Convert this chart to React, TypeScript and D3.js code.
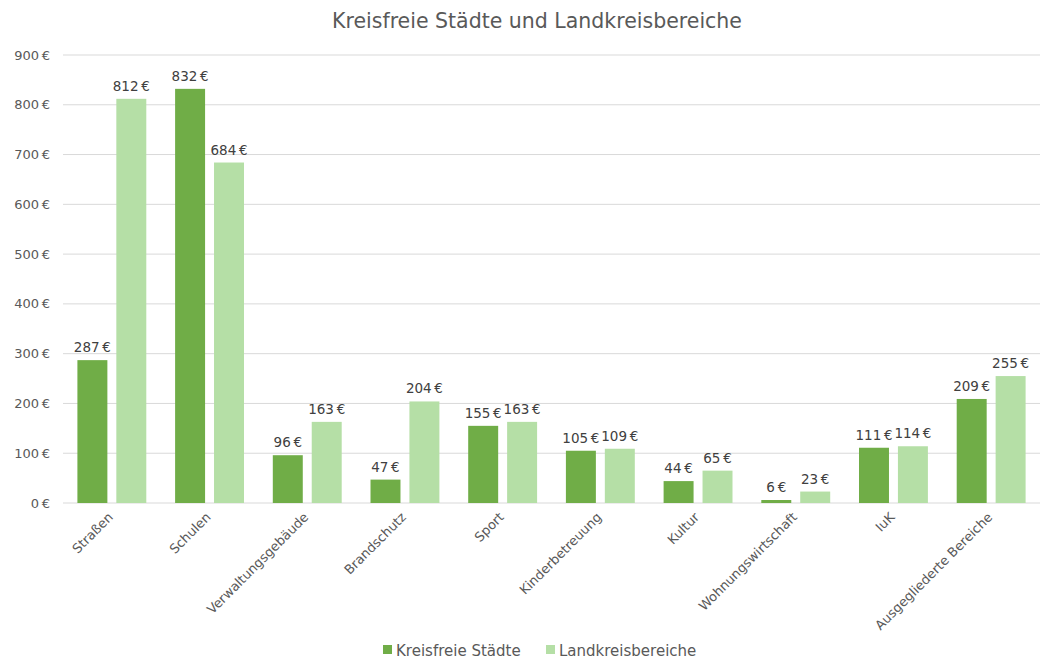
import * as d3 from 'd3';
import { useEffect, useRef } from 'react';

const categories = [
  'Straßen', 'Schulen', 'Verwaltungsgebäude', 'Brandschutz', 'Sport',
  'Kinderbetreuung', 'Kultur', 'Wohnungswirtschaft', 'IuK', 'Ausgegliederte Bereiche'
];
const kreisfreie = [287, 832, 96, 47, 155, 105, 44, 6, 111, 209];
const landkreis = [812, 684, 163, 204, 163, 109, 65, 23, 114, 255];
const seriesNames = ['Kreisfreie Städte', 'Landkreisbereiche'];
const seriesColors = ['#70ad47', '#b5dfa6'];
const yTicks = [0, 100, 200, 300, 400, 500, 600, 700, 800, 900];

const W = 1051;
const H = 662;

const euro = (v: number) => `${v}\u202F€`;

function App() {
  const ref = useRef<SVGSVGElement>(null);

  useEffect(() => {
    const svg = d3.select(ref.current);
    svg.selectAll('*').remove();
    const font = '"DejaVu Sans", Verdana, sans-serif';

    const x = d3.scaleBand().domain(categories).range([63, 1040]);
    const y = d3.scaleLinear().domain([0, 900]).range([503, 55]);
    const inner = d3.scaleBand().domain(['0', '1']).range([0, x.bandwidth()]).paddingInner(0.23).paddingOuter(0.37);

    svg.append('text')
      .attr('x', 537).attr('y', 28)
      .attr('text-anchor', 'middle')
      .style('font-family', font).style('font-size', '20.5px').style('fill', '#595959')
      .text('Kreisfreie Städte und Landkreisbereiche');

    // grid
    svg.append('g').selectAll('line').data(yTicks).enter().append('line')
      .attr('x1', 63).attr('x2', 1040)
      .attr('y1', d => y(d)).attr('y2', d => y(d))
      .attr('stroke', '#d9d9d9').attr('stroke-width', 1);

    svg.append('g').selectAll('text').data(yTicks).enter().append('text')
      .attr('x', 50).attr('y', d => y(d) + 4.5)
      .attr('text-anchor', 'end')
      .style('font-family', font).style('font-size', '13px').style('fill', '#595959')
      .text(d => euro(d));

    const series = [kreisfreie, landkreis];
    series.forEach((vals, si) => {
      const g = svg.append('g');
      g.selectAll('rect').data(vals).enter().append('rect')
        .attr('x', (d, i) => (x(categories[i]) as number) + (inner(String(si)) as number))
        .attr('width', inner.bandwidth())
        .attr('y', d => y(d))
        .attr('height', d => y(0) - y(d))
        .attr('fill', seriesColors[si]);
      g.selectAll('text').data(vals).enter().append('text')
        .attr('x', (d, i) => (x(categories[i]) as number) + (inner(String(si)) as number) + inner.bandwidth() / 2)
        .attr('y', d => y(d) - 8)
        .attr('text-anchor', 'middle')
        .style('font-family', font).style('font-size', '13.5px').style('fill', '#404040')
        .text(d => euro(d));
    });

    // x labels
    svg.append('g').selectAll('text').data(categories).enter().append('text')
      .attr('transform', d => `translate(${(x(d) as number) + x.bandwidth() / 2 + 2},${518}) rotate(-45)`)
      .attr('text-anchor', 'end')
      .style('font-family', font).style('font-size', '13px').style('fill', '#595959')
      .text(d => d);

    // legend
    const lx = [383, 546];
    seriesNames.forEach((n, i) => {
      svg.append('rect').attr('x', lx[i]).attr('y', 645).attr('width', 9).attr('height', 9).attr('fill', seriesColors[i]);
      svg.append('text').attr('x', lx[i] + 13).attr('y', 656)
        .style('font-family', font).style('font-size', '15px').style('fill', '#595959')
        .text(n);
    });
  }, []);

  return (
    <svg ref={ref} width={W} height={H} style={{ display: 'block', position: 'absolute', left: 0, top: 0, background: '#fff' }} />
  );
}

export default App;
